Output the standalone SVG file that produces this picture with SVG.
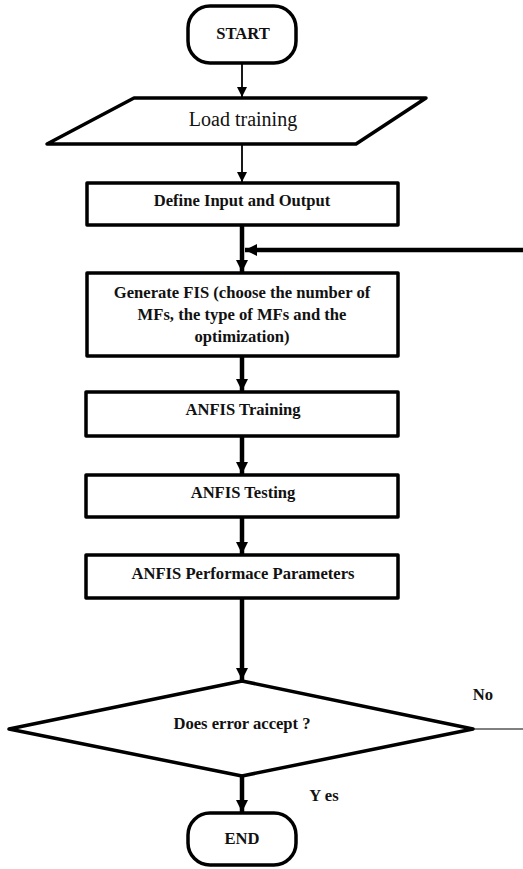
<svg xmlns="http://www.w3.org/2000/svg" width="523" height="869" viewBox="0 0 523 869">
<defs>
<style>
.box{fill:#fff;stroke:#000;stroke-width:3.5;stroke-linejoin:round}
.t{font-family:"Liberation Serif","Times New Roman",serif;font-weight:bold;font-size:16.6px;fill:#111;text-anchor:middle}
.tn{font-family:"Liberation Serif","Times New Roman",serif;font-size:20px;fill:#111;text-anchor:middle}
.thin{stroke:#000;stroke-width:1.8;fill:none}
.thick{stroke:#000;stroke-width:4.5;fill:none}
</style>
<marker id="ah" viewBox="0 0 10 10" refX="10" refY="5" markerWidth="10" markerHeight="10" markerUnits="userSpaceOnUse" orient="auto"><path d="M0,0 L10,5 L0,10 z" fill="#000"/></marker>
<marker id="ahT" viewBox="0 0 10 10" refX="10" refY="5" markerWidth="12" markerHeight="12" markerUnits="userSpaceOnUse" orient="auto"><path d="M0,0 L10,5 L0,10 z" fill="#000"/></marker>
</defs>
<g id="connectors">
<line class="thin" x1="242" y1="64" x2="242" y2="97" marker-end="url(#ah)"/>
<line class="thin" x1="242" y1="145" x2="242" y2="182" marker-end="url(#ah)"/>
<line class="thick" x1="242" y1="226" x2="242" y2="272" marker-end="url(#ahT)"/>
<line class="thick" x1="523" y1="250" x2="245" y2="250" marker-end="url(#ahT)"/>
<line class="thick" x1="242" y1="357" x2="242" y2="391" marker-end="url(#ahT)"/>
<line class="thick" x1="242" y1="437" x2="242" y2="474" marker-end="url(#ahT)"/>
<line class="thick" x1="242" y1="518" x2="242" y2="554" marker-end="url(#ahT)"/>
<line class="thick" x1="242" y1="599" x2="242" y2="680" marker-end="url(#ahT)"/>
<line class="thick" x1="242" y1="776" x2="242" y2="812" marker-end="url(#ahT)"/>
<line class="thin" x1="473" y1="729" x2="523" y2="729" style="stroke-width:1"/>
<text class="t" x="483" y="700">No</text>
<text class="t" x="324" y="801">Y es</text>
</g>
<g id="start">
<rect class="box" x="188" y="6" width="108" height="57" rx="22"/>
<text class="t" x="243" y="39">START</text>
</g>
<g id="load">
<polygon class="box" points="134,98 426,98 356,144 47,144"/>
<text class="tn" x="243" y="126">Load training</text>
</g>
<g id="define">
<rect class="box" x="87" y="183" width="311" height="42"/>
<text class="t" x="242" y="206">Define Input and Output</text>
</g>
<g id="generate">
<rect class="box" x="87" y="273" width="311" height="83"/>
<text class="t" x="242" y="298">Generate FIS (choose the number of</text>
<text class="t" x="242" y="320">MFs, the type of MFs and the</text>
<text class="t" x="242" y="342">optimization)</text>
</g>
<g id="training">
<rect class="box" x="86" y="392" width="312" height="44"/>
<text class="t" x="243" y="415">ANFIS Training</text>
</g>
<g id="testing">
<rect class="box" x="86" y="475" width="312" height="42"/>
<text class="t" x="243" y="498">ANFIS Testing</text>
</g>
<g id="performance">
<rect class="box" x="86" y="555" width="312" height="43"/>
<text class="t" x="243" y="579">ANFIS Performace Parameters</text>
</g>
<g id="decision">
<polygon class="box" points="242,681 473,729 242,776 9,729"/>
<text class="t" x="242" y="729">Does error accept ?</text>
</g>
<g id="end">
<rect class="box" x="188" y="813" width="108" height="52" rx="22"/>
<text class="t" x="242" y="844">END</text>
</g>
</svg>
